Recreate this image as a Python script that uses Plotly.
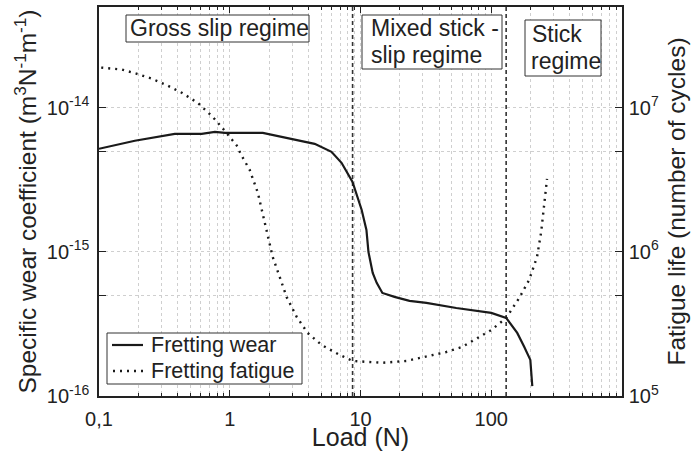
import plotly.graph_objects as go

# ---- data ----
load_wear = [0.1, 0.188, 0.38, 0.61, 0.77, 0.92, 1.79, 2.77, 4.46, 6.0, 7.16, 8.69, 10.2, 11.1,
             11.5, 12.4, 13.3, 14.7, 18.2, 23.7, 31.9, 54, 100, 130, 158, 179, 199, 206]
wear_coeff = [5.19e-15, 5.9e-15, 6.59e-15, 6.59e-15, 6.81e-15, 6.7e-15, 6.7e-15, 6.19e-15,
              5.62e-15, 4.94e-15, 4.15e-15, 3.06e-15, 1.96e-15, 1.42e-15, 1.0e-15, 7.15e-16,
              6.1e-16, 5.19e-16, 4.87e-16, 4.57e-16, 4.43e-16, 4.08e-16, 3.77e-16, 3.48e-16,
              2.74e-16, 2.19e-16, 1.78e-16, 1.17e-16]

load_fatigue = [0.104, 0.15, 0.195, 0.254, 0.337, 0.43, 0.57, 0.74, 0.93, 1.15, 1.21, 1.42, 1.64,
                1.92, 2.13, 2.41, 2.72, 3.25, 3.94, 5.04, 6.92, 8.69, 10.2, 14.7, 22.4, 31.9, 45.3,
                60, 76.8, 100, 130, 164, 195, 224, 241, 254, 267]
fatigue_life = [1.90e7, 1.84e7, 1.72e7, 1.59e7, 1.42e7, 1.27e7, 1.08e7, 8.66e6, 6.81e6, 5.36e6,
                4.79e6, 3.71e6, 2.57e6, 1.42e6, 9.23e5, 6.7e5, 4.87e5, 3.54e5, 2.74e5, 2.26e5,
                1.93e5, 1.75e5, 1.73e5, 1.70e5, 1.75e5, 1.87e5, 2.02e5, 2.19e5, 2.49e5, 2.87e5,
                3.48e5, 4.8e5, 6.4e5, 9.23e5, 1.38e6, 2.22e6, 3.21e6]

regime_bounds = [8.7, 130]
series_names = ["Fretting wear", "Fretting fatigue"]
regime_labels = [["Gross slip regime"], ["Mixed stick -", "slip regime"], ["Stick", "regime"]]

x_tickvals = [0.1, 1, 10, 100]
x_ticktext = ["0,1", "1", "10", "100"]
x_minor = [k * 10 ** e for e in range(-1, 3) for k in range(2, 10)]

y_tickvals = [1e-16, 1e-15, 1e-14]
y_ticktext = ["10<sup>-16</sup>", "10<sup>-15</sup>", "10<sup>-14</sup>"]
y_minor = [5e-16, 5e-15]

y2_tickvals = [1e5, 1e6, 1e7]
y2_ticktext = ["10<sup>5</sup>", "10<sup>6</sup>", "10<sup>7</sup>"]
y2_minor = [5e5, 5e6]

FONT = "Liberation Sans, Arial, sans-serif"
TXT = "#222222"
GRID = "#cfcfcf"
EDGE = "#333333"

# plot area in pixels (for placing boxes in paper coordinates)
L, R, T, B = 99, 622, 7, 396
def px(x):
    return (x - L) / (R - L)
def py(y):
    return (B - y) / (B - T)

fig = go.Figure()

for xb in regime_bounds:
    fig.add_trace(go.Scatter(x=[xb, xb], y=[1e-16, 5e-14], mode="lines",
                             line=dict(color="#333333", width=1.6, dash="4px,3px"),
                             showlegend=False, hoverinfo="skip"))

wear_line = dict(color="#1a1a1a", width=2.2)
fat_line = dict(color="#1a1a1a", width=2.4, dash="2px,5px")

fig.add_trace(go.Scatter(x=load_wear, y=wear_coeff, mode="lines", name=series_names[0],
                         line=wear_line, showlegend=False))
fig.add_trace(go.Scatter(x=load_fatigue, y=fatigue_life, mode="lines", name=series_names[1],
                         yaxis="y2", line=fat_line, showlegend=False))

fig.update_layout(
    width=696, height=451,
    margin=dict(l=L, r=696 - R, t=T, b=451 - B, autoexpand=False),
    plot_bgcolor="white", paper_bgcolor="white",
    font=dict(family=FONT, color=TXT, size=20),
    xaxis=dict(
        type="log", range=[-1, 3], tickvals=x_tickvals, ticktext=x_ticktext,
        ticks="inside", ticklen=6, tickwidth=1, tickcolor="#222",
        showline=True, linecolor="#222", linewidth=1.5, mirror="ticks",
        showgrid=True, gridcolor=GRID, griddash="dot", gridwidth=1,
        minor=dict(tickvals=x_minor, ticks="inside", ticklen=3, tickcolor="#222",
                   showgrid=True, gridcolor=GRID, griddash="dot", gridwidth=1),
        tickfont=dict(size=20), ticklabelstandoff=4,
        title=dict(text="Load (N)", font=dict(size=25), standoff=5),
        zeroline=False, automargin=False,
    ),
    yaxis=dict(
        type="log", range=[-16, -13.30103], tickvals=y_tickvals, ticktext=y_ticktext,
        ticks="inside", ticklen=7, tickcolor="#222",
        showline=True, linecolor="#222", linewidth=1.5,
        showgrid=True, gridcolor=GRID, griddash="dot", gridwidth=1,
        minor=dict(tickvals=y_minor, ticks="inside", ticklen=7, tickcolor="#222",
                   showgrid=True, gridcolor=GRID, griddash="dot", gridwidth=1),
        tickfont=dict(size=20), ticklabelstandoff=4,
        title=dict(text="Specific wear coefficient (m<sup>3</sup>N<sup>-1</sup>m<sup>-1</sup>)",
                   font=dict(size=24.5), standoff=3),
        zeroline=False, automargin=False,
    ),
    yaxis2=dict(
        type="log", range=[5, 7.69897], overlaying="y", side="right",
        tickvals=y2_tickvals, ticktext=y2_ticktext,
        ticks="inside", ticklen=7, tickcolor="#222",
        showline=True, linecolor="#222", linewidth=1.5,
        showgrid=False,
        minor=dict(tickvals=y2_minor, ticks="inside", ticklen=7, tickcolor="#222"),
        tickfont=dict(size=20), ticklabelstandoff=1,
        title=dict(text="Fatigue life (number of cycles)", font=dict(size=24.5), standoff=10),
        zeroline=False, automargin=False,
    ),
    showlegend=False,
)

shapes = []
anns = []
def box(x0, y0, x1, y1):
    shapes.append(dict(type="rect", xref="paper", yref="paper", x0=px(x0), x1=px(x1),
                       y0=py(y1), y1=py(y0), fillcolor="white", layer="above",
                       line=dict(color=EDGE, width=1)))
def text(t, x, y, size, anchor="left"):
    anns.append(dict(text=t, xref="paper", yref="paper", x=px(x), y=py(y), showarrow=False,
                     xanchor=anchor, yanchor="middle",
                     font=dict(size=size, family=FONT, color=TXT)))

# regime boxes
box(126, 15, 309, 42)
text(regime_labels[0][0], 219, 28, 23, anchor="center")
box(362, 15, 502, 69)
text(regime_labels[1][0], 369, 28, 23)
text(regime_labels[1][1], 369, 55, 23)
box(525, 20, 601, 76)
text(regime_labels[2][0], 530, 34, 23)
text(regime_labels[2][1], 529, 61, 23)

# legend
box(107, 333, 302, 384)
shapes.append(dict(type="line", xref="paper", yref="paper", x0=px(112), x1=px(143),
                   y0=py(345), y1=py(345), layer="above", line=wear_line))
shapes.append(dict(type="line", xref="paper", yref="paper", x0=px(113), x1=px(143),
                   y0=py(371), y1=py(371), layer="above", line=fat_line))
text(series_names[0], 149, 345, 21.5)
text(series_names[1], 149, 371, 21.5)

fig.update_layout(shapes=shapes, annotations=anns)
fig.write_html("out.html")
